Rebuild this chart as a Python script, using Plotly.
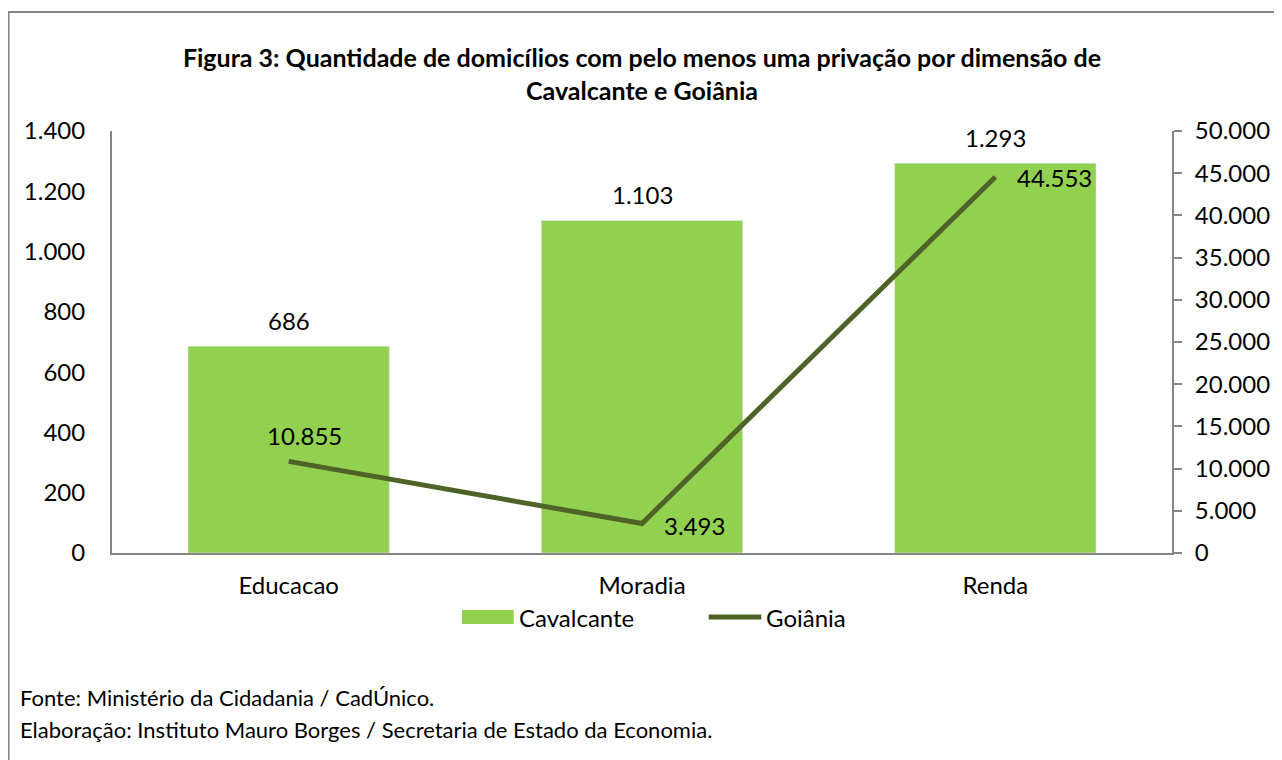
import plotly.graph_objects as go

categories = ["Educacao", "Moradia", "Renda"]
cavalcante = [686, 1103, 1293]
goiania = [10855, 3493, 44553]
left_ticks = [0, 200, 400, 600, 800, 1000, 1200, 1400]
right_ticks = [0, 5000, 10000, 15000, 20000, 25000, 30000, 35000, 40000, 45000, 50000]
series_names = ["Cavalcante", "Goiânia"]

def fmt(v):
    return f"{v:,}".replace(",", ".")

OFF = 8  # page body margin
W, H = 1282 - OFF, 760 - OFF
L, R, T, B = 112 - OFF, 1178 - OFF, 131 - OFF, 553 - OFF
FONT = "Lato"
FS = 24
BAR_C = "#92D050"
LINE_C = "#4F6228"
AX_C = "#868686"

fig = go.Figure()
fig.add_trace(go.Bar(
    x=categories, y=cavalcante, name=series_names[0], marker_color=BAR_C,
    width=0.57, showlegend=False,
))
fig.add_trace(go.Scatter(
    x=categories, y=goiania, name=series_names[1], mode="lines", yaxis="y2",
    line=dict(color=LINE_C, width=5), showlegend=False,
))
for c, v in zip(categories, cavalcante):
    fig.add_annotation(x=c, y=v, text=fmt(v), showarrow=False, yshift=26,
                       yanchor="middle", font=dict(size=FS, color="#000000", family=FONT))
shifts = [(16, 26), (52, -2), (59, -1)]
for c, v, (dx, dy) in zip(categories, goiania, shifts):
    fig.add_annotation(x=c, y=v, yref="y2", text=fmt(v), showarrow=False,
                       xshift=dx, yshift=dy, yanchor="middle",
                       font=dict(size=FS, color="#000000", family=FONT))

fig.update_layout(
    width=W, height=H,
    margin=dict(l=L, r=W - R, t=T, b=H - B),
    paper_bgcolor="white", plot_bgcolor="white",
    font=dict(family=FONT, size=FS, color="#000000"),
    title=dict(text="<b>Figura 3: Quantidade de domicílios com pelo menos uma privação por dimensão de<br>Cavalcante e Goiânia</b>",
               x=0.5, xref="paper", y=1 - (67 - OFF) / H, yanchor="middle",
               font=dict(size=25, family=FONT)),
    xaxis=dict(showline=True, linecolor=AX_C, linewidth=2, ticks="",
               tickfont=dict(size=FS), showgrid=False, ticklabelstandoff=10),
    yaxis=dict(range=[0, 1400], tickvals=left_ticks, ticktext=[fmt(v) for v in left_ticks],
               showline=True, linecolor=AX_C, linewidth=2, ticks="", showgrid=False,
               zeroline=False, tickfont=dict(size=FS), ticklabelstandoff=20),
    yaxis2=dict(range=[0, 50000], tickvals=right_ticks, ticktext=[fmt(v) for v in right_ticks],
                overlaying="y", side="right", showline=True, linecolor=AX_C, linewidth=2,
                ticks="outside", ticklen=8, tickcolor=AX_C, tickwidth=2, showgrid=False, zeroline=False,
                tickfont=dict(size=FS), ticklabelstandoff=8),
    showlegend=False,
)

pw, ph = R - L, B - T
def px(x):
    return (x - OFF - L) / pw
def py(y):
    return (B - (y - OFF)) / ph

# outer frame (only the left and top edges fall inside the picture)
fig.add_shape(type="rect", xref="paper", yref="paper",
              x0=px(8), x1=px(1320), y0=py(12), y1=py(800),
              line=dict(color=AX_C, width=2), fillcolor="rgba(0,0,0,0)", layer="below")

# legend
LEG_Y = 617
fig.add_shape(type="rect", xref="paper", yref="paper", x0=px(464), x1=px(516),
              y0=py(LEG_Y - 7), y1=py(LEG_Y + 7), line=dict(width=0), fillcolor=BAR_C)
fig.add_annotation(xref="paper", yref="paper", x=px(519), y=py(LEG_Y), xanchor="left", yanchor="middle",
                   text=series_names[0], showarrow=False, font=dict(size=FS, family=FONT))
fig.add_shape(type="line", xref="paper", yref="paper", x0=px(712), x1=px(765),
              y0=py(LEG_Y), y1=py(LEG_Y), line=dict(color=LINE_C, width=5))
fig.add_annotation(xref="paper", yref="paper", x=px(768), y=py(LEG_Y), xanchor="left", yanchor="middle",
                   text=series_names[1], showarrow=False, font=dict(size=FS, family=FONT))

fig.add_annotation(xref="paper", yref="paper", x=px(17), y=py(697), xanchor="left", yanchor="middle",
                   text="Fonte: Ministério da Cidadania / CadÚnico.", showarrow=False,
                   font=dict(size=22, family=FONT))
fig.add_annotation(xref="paper", yref="paper", x=px(17), y=py(729), xanchor="left", yanchor="middle",
                   text="Elaboração: Instituto Mauro Borges / Secretaria de Estado da Economia.", showarrow=False,
                   font=dict(size=22, family=FONT))

fig.write_html("out.html")
